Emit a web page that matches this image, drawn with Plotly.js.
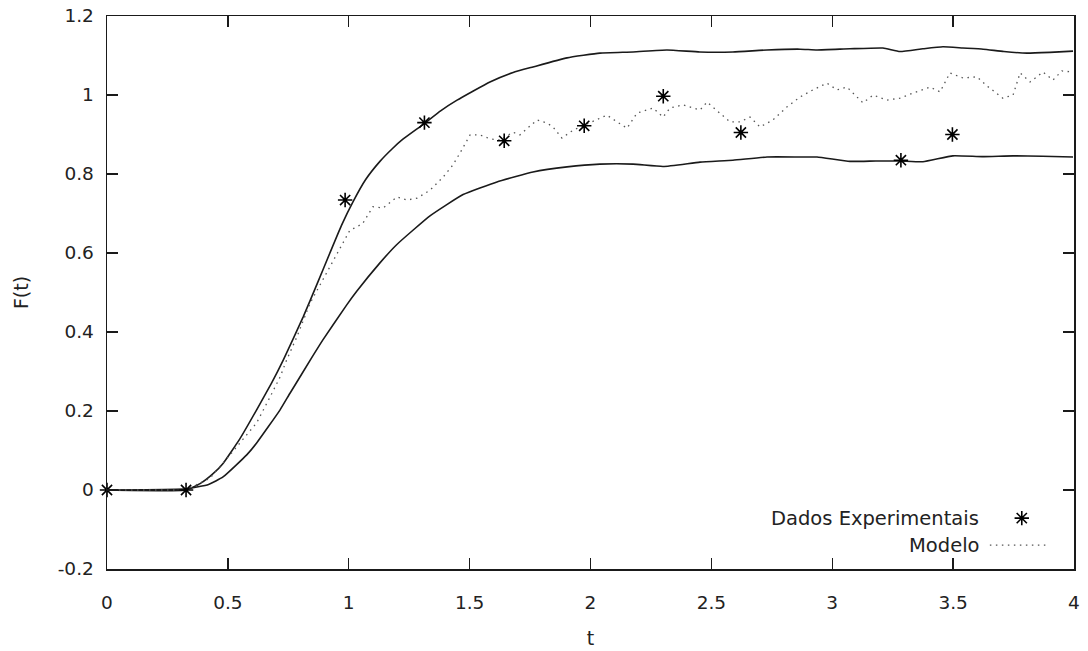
<!DOCTYPE html>
<html>
<head>
<meta charset="utf-8">
<script src="https://cdn.plot.ly/plotly-3.0.1.min.js"></script>
<style>
  html, body { margin: 0; padding: 0; background: #fff; }
  #chart { width: 1088px; height: 651px; }
</style>
</head>
<body>
<div id="chart"></div>
<script>
// Experimental points
const expT = [0, 0.327, 0.985, 1.313, 1.643, 1.974, 2.301, 2.622, 3.284, 3.497];
const expF = [0, 0, 0.734, 0.930, 0.884, 0.922, 0.997, 0.905, 0.835, 0.900];

// Upper envelope
const upT = [0, 0.327, 0.385, 0.440, 0.481, 0.550, 0.619, 0.680, 0.729, 0.812, 0.870, 0.922, 0.970, 1.018, 1.070, 1.129, 1.180, 1.224, 1.311, 1.380, 1.448, 1.584, 1.680, 1.762, 1.903, 2.039, 2.176, 2.316, 2.452, 2.589, 2.730, 2.867, 2.937, 3.073, 3.210, 3.280, 3.375, 3.458, 3.540, 3.624, 3.710, 3.806, 3.900, 3.996];
const upF = [0, 0, 0.016, 0.042, 0.068, 0.130, 0.203, 0.270, 0.329, 0.439, 0.523, 0.600, 0.670, 0.730, 0.786, 0.832, 0.864, 0.888, 0.927, 0.960, 0.987, 1.033, 1.057, 1.071, 1.094, 1.106, 1.109, 1.114, 1.109, 1.109, 1.114, 1.116, 1.114, 1.117, 1.119, 1.110, 1.117, 1.122, 1.119, 1.116, 1.110, 1.106, 1.108, 1.111];

// Lower envelope
const loT = [0, 0.330, 0.420, 0.480, 0.578, 0.619, 0.716, 0.757, 0.852, 0.893, 0.991, 1.033, 1.129, 1.198, 1.336, 1.473, 1.613, 1.762, 1.903, 2.039, 2.176, 2.300, 2.453, 2.589, 2.730, 2.867, 2.937, 3.073, 3.180, 3.280, 3.375, 3.499, 3.620, 3.748, 3.870, 3.996];
const loF = [0, 0.003, 0.014, 0.033, 0.089, 0.119, 0.203, 0.245, 0.340, 0.380, 0.468, 0.503, 0.575, 0.621, 0.694, 0.748, 0.780, 0.805, 0.818, 0.825, 0.825, 0.819, 0.830, 0.835, 0.843, 0.843, 0.843, 0.832, 0.833, 0.833, 0.831, 0.846, 0.844, 0.846, 0.845, 0.843];

// Model response
const modT = [0, 0.327, 0.343, 0.426, 0.509, 0.619, 0.674, 0.716, 0.743, 0.785, 0.840, 0.881, 0.922, 0.964, 1.005, 1.034, 1.059, 1.100, 1.142, 1.200, 1.241, 1.283, 1.336, 1.390, 1.431, 1.460, 1.502, 1.543, 1.584, 1.626, 1.679, 1.708, 1.750, 1.779, 1.820, 1.845, 1.882, 1.928, 1.957, 2.027, 2.068, 2.110, 2.151, 2.192, 2.259, 2.300, 2.329, 2.383, 2.453, 2.482, 2.536, 2.577, 2.618, 2.660, 2.701, 2.755, 2.813, 2.867, 2.920, 2.978, 3.020, 3.061, 3.127, 3.169, 3.226, 3.280, 3.334, 3.404, 3.446, 3.487, 3.541, 3.599, 3.640, 3.706, 3.748, 3.777, 3.818, 3.872, 3.913, 3.950, 3.996];
const modF = [0, 0, 0.005, 0.030, 0.089, 0.170, 0.235, 0.286, 0.329, 0.387, 0.473, 0.519, 0.567, 0.613, 0.658, 0.666, 0.676, 0.717, 0.714, 0.742, 0.734, 0.739, 0.759, 0.792, 0.823, 0.853, 0.899, 0.899, 0.889, 0.886, 0.906, 0.899, 0.922, 0.937, 0.929, 0.919, 0.891, 0.911, 0.919, 0.937, 0.949, 0.932, 0.916, 0.954, 0.967, 0.944, 0.967, 0.975, 0.962, 0.982, 0.954, 0.932, 0.932, 0.944, 0.919, 0.937, 0.970, 0.995, 1.013, 1.030, 1.013, 1.020, 0.980, 1.000, 0.987, 0.992, 1.005, 1.020, 1.008, 1.056, 1.043, 1.046, 1.023, 0.992, 1.000, 1.056, 1.033, 1.058, 1.038, 1.061, 1.058];

// Axis ticks
const xTicks = [0, 0.5, 1, 1.5, 2, 2.5, 3, 3.5, 4];
const xTickText = ['0', '0.5', '1', '1.5', '2', '2.5', '3', '3.5', '4'];
const yTicks = [-0.2, 0, 0.2, 0.4, 0.6, 0.8, 1, 1.2];
const yTickText = ['-0.2', '0', '0.2', '0.4', '0.6', '0.8', '1', '1.2'];

// Legend entries
const legendLabels = ['Dados Experimentais', 'Modelo'];

const FONT = 'DejaVu Sans, Verdana, sans-serif';
const INK = '#1a1a1a';
const TEXT = '#222';
const starMarker = { symbol: 'asterisk-open', size: 12, line: { color: '#000', width: 1.6 }, color: '#000' };
const dotLine = { color: '#555', width: 1.3, dash: '1.5px,4.5px' };
const envLine = { color: INK, width: 1.6, shape: 'spline', smoothing: 0.4 };

const traces = [
  { x: upT, y: upF, mode: 'lines', line: envLine, hoverinfo: 'skip' },
  { x: loT, y: loF, mode: 'lines', line: envLine, hoverinfo: 'skip' },
  { x: modT, y: modF, mode: 'lines', line: dotLine, name: legendLabels[1] },
  { x: expT, y: expF, mode: 'markers', marker: starMarker, name: legendLabels[0], cliponaxis: false },
  // legend keys, drawn on a hidden overlay frame
  { x: [0.946], y: [0.092], xaxis: 'x2', yaxis: 'y2', mode: 'markers', marker: starMarker, hoverinfo: 'skip' },
  { x: [0.913, 0.974], y: [0.043, 0.043], xaxis: 'x2', yaxis: 'y2', mode: 'lines', line: dotLine, hoverinfo: 'skip' }
];

const axisCommon = {
  showline: true, linecolor: INK, linewidth: 1.5, mirror: 'ticks',
  ticks: 'inside', ticklen: 11, tickwidth: 1.3, tickcolor: INK,
  showgrid: false, zeroline: false,
  tickfont: { family: FONT, size: 18.5, color: TEXT }
};

const layout = {
  width: 1088, height: 651,
  margin: { l: 107, r: 14, t: 16, b: 82 },
  paper_bgcolor: '#fff', plot_bgcolor: '#fff',
  showlegend: false,
  xaxis: Object.assign({}, axisCommon, {
    range: [0, 4], tickvals: xTicks, ticktext: xTickText, ticklabelstandoff: 16,
    title: { text: 't', font: { family: FONT, size: 19, color: TEXT }, standoff: 20 }
  }),
  yaxis: Object.assign({}, axisCommon, {
    range: [-0.2, 1.2], tickvals: yTicks, ticktext: yTickText, ticklabelstandoff: 8,
    title: { text: 'F(t)', font: { family: FONT, size: 19, color: TEXT }, standoff: 24 }
  }),
  xaxis2: { overlaying: 'x', range: [0, 1], visible: false, fixedrange: true },
  yaxis2: { overlaying: 'y', range: [0, 1], visible: false, fixedrange: true },
  annotations: [
    { xref: 'paper', yref: 'paper', x: 0.904, y: 0.092, xanchor: 'right', yanchor: 'middle', showarrow: false,
      text: legendLabels[0], font: { family: FONT, size: 19.5, color: TEXT } },
    { xref: 'paper', yref: 'paper', x: 0.904, y: 0.043, xanchor: 'right', yanchor: 'middle', showarrow: false,
      text: legendLabels[1], font: { family: FONT, size: 19.5, color: TEXT } }
  ]
};

Plotly.newPlot('chart', traces, layout, { staticPlot: true, displayModeBar: false });
</script>
</body>
</html>
